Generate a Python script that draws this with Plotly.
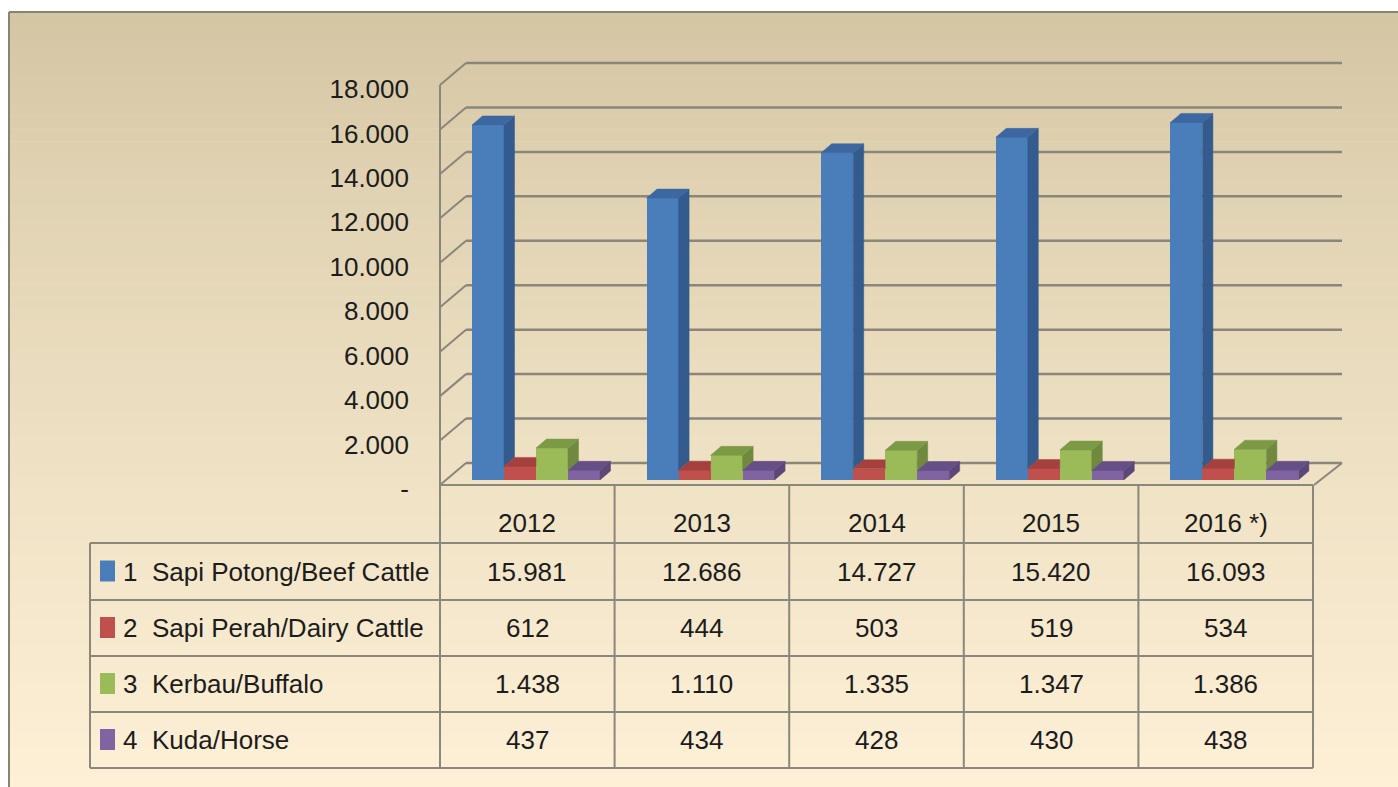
import plotly.graph_objects as go

# ---------------- data ----------------
years = ["2012", "2013", "2014", "2015", "2016 *)"]
series_names = ["Sapi Potong/Beef Cattle", "Sapi Perah/Dairy Cattle", "Kerbau/Buffalo", "Kuda/Horse"]
series_nums = ["1", "2", "3", "4"]
beef_cattle = [15981, 12686, 14727, 15420, 16093]
dairy_cattle = [612, 444, 503, 519, 534]
buffalo = [1438, 1110, 1335, 1347, 1386]
horse = [437, 434, 428, 430, 438]
y_ticks = [0, 2000, 4000, 6000, 8000, 10000, 12000, 14000, 16000, 18000]

series = [beef_cattle, dairy_cattle, buffalo, horse]

# ---------------- styles ----------------
front_colors = ["#4a7ebb", "#c0504d", "#9bbb59", "#8064a2"]
side_colors = ["#335b8e", "#963a37", "#71893f", "#5c4878"]
top_colors = ["#3c67a0", "#a4413e", "#7c9a45", "#664f86"]
grid_color = "#8a867a"
font_family = "Liberation Sans Narrow, Arial Narrow, Liberation Sans, Arial, sans-serif"
text_color = "#1c1c1c"

FIG_W, FIG_H = 1398, 787
X0, W = 527.3, 174.6       # px of category 0 centre, px per category
Y0, K = 480.0, 0.02222     # px of value 0 (bar front plane), px per unit
BW = 32.0                  # bar width px
GROUP_OFF = -55.3          # left edge of first bar relative to category centre (px)
DEP_X, DEP_Y = 10.5, 9.0   # bar depth in px

def px2x(px):
    return (px - X0) / W

def py2y(py):
    return (Y0 - py) / K

def pxp(px):
    return px / FIG_W

def pyp(py):
    return 1 - py / FIG_H

def fmt(v):
    return "-" if v == 0 else f"{v:,}".replace(",", ".")

fig = go.Figure()

ddx = DEP_X / W
ddy = DEP_Y / K
bw = BW / W

# bars: front faces as bar traces, side/top faces as polygons in data space
for j, vals in enumerate(series):
    xs = [i + (GROUP_OFF + BW * j + BW / 2) / W for i in range(len(vals))]
    fig.add_trace(go.Bar(x=xs, y=vals, width=bw, marker=dict(color=front_colors[j], line=dict(width=0)),
                         name=series_names[j], showlegend=False, hoverinfo="skip"))
    sx, sy, tx, ty = [], [], [], []
    for i, v in enumerate(vals):
        xl = xs[i] - bw / 2
        xr = xs[i] + bw / 2
        nv = series[j + 1][i] if j + 1 < len(series) else 0
        if nv < v:
            sx += [xr, xr + ddx, xr + ddx, xr, xr, None]
            sy += [nv, nv + ddy, v + ddy, v, nv, None]
        if nv > v:
            tx += [xl, xr, xr, xl + ddx, xl, None]
            ty += [v, v, v + ddy, v + ddy, v, None]
        else:
            tx += [xl, xr, xr + ddx, xl + ddx, xl, None]
            ty += [v, v, v + ddy, v + ddy, v, None]
    if sx:
        fig.add_trace(go.Scatter(x=sx, y=sy, mode="lines", fill="toself", fillcolor=side_colors[j],
                                 line=dict(width=0.5, color=side_colors[j]), showlegend=False, hoverinfo="skip"))
    fig.add_trace(go.Scatter(x=tx, y=ty, mode="lines", fill="toself", fillcolor=top_colors[j],
                             line=dict(width=0.5, color=top_colors[j]), showlegend=False, hoverinfo="skip"))

shapes = []

# background gradient
top_rgb = (211, 197, 162)
bot_rgb = (253, 240, 214)
n = 60
y_start, y_end = 12, FIG_H
for s in range(n):
    a = y_start + (y_end - y_start) * s / n
    b = y_start + (y_end - y_start) * (s + 1) / n
    t = (s + 0.5) / n
    t = t ** 0.8
    c = tuple(int(round(top_rgb[k] + (bot_rgb[k] - top_rgb[k]) * t)) for k in range(3))
    shapes.append(dict(type="rect", xref="paper", yref="paper", x0=pxp(9), x1=1, y0=pyp(b + 0.5), y1=pyp(a),
                       fillcolor=f"rgb{c}", line=dict(width=0), layer="below"))

# outer frame
shapes.append(dict(type="line", xref="paper", yref="paper", x0=pxp(9), x1=1, y0=pyp(12), y1=pyp(12),
                   line=dict(color="#8a8372", width=2), layer="below"))
shapes.append(dict(type="line", xref="paper", yref="paper", x0=pxp(9), x1=pxp(9), y0=pyp(12), y1=0,
                   line=dict(color="#8a8372", width=2), layer="below"))

# 3D walls / gridlines (data coordinates)
FL_X, BL_X, FR_X, BR_X = 440, 466, 1314, 1342
FRONT_PY0, BACK_PY0 = 485, 463
for v in y_ticks:
    yb = py2y(BACK_PY0 - K * v)
    yf = py2y(FRONT_PY0 - K * v)
    shapes.append(dict(type="line", xref="x", yref="y", x0=px2x(BL_X), x1=px2x(BR_X), y0=yb, y1=yb,
                       line=dict(color=grid_color, width=2.5), layer="below"))
    shapes.append(dict(type="line", xref="x", yref="y", x0=px2x(FL_X), x1=px2x(BL_X), y0=yf, y1=yb,
                       line=dict(color=grid_color, width=2), layer="below"))
# front-left vertical edge
shapes.append(dict(type="line", xref="x", yref="y", x0=px2x(FL_X), x1=px2x(FL_X),
                   y0=py2y(FRONT_PY0), y1=py2y(FRONT_PY0 - K * max(y_ticks)),
                   line=dict(color=grid_color, width=2), layer="below"))
# floor right edge
shapes.append(dict(type="line", xref="x", yref="y", x0=px2x(FR_X), x1=px2x(BR_X),
                   y0=py2y(FRONT_PY0), y1=py2y(BACK_PY0), line=dict(color=grid_color, width=2), layer="below"))

# data table
tbl_color = "#8a877b"
col_edges = [440 + 174.6 * i for i in range(len(years) + 1)]
row_edges = [485, 543, 600, 656, 712, 768]
LBL_X0 = 90
for r, py in enumerate(row_edges):
    x0 = FL_X if r == 0 else LBL_X0
    shapes.append(dict(type="line", xref="paper", yref="paper", x0=pxp(x0), x1=pxp(col_edges[-1]),
                       y0=pyp(py), y1=pyp(py), line=dict(color=tbl_color, width=2)))
for cx in col_edges:
    shapes.append(dict(type="line", xref="paper", yref="paper", x0=pxp(cx), x1=pxp(cx),
                       y0=pyp(row_edges[0]), y1=pyp(row_edges[-1]), line=dict(color=tbl_color, width=2)))
shapes.append(dict(type="line", xref="paper", yref="paper", x0=pxp(LBL_X0), x1=pxp(LBL_X0),
                   y0=pyp(row_edges[1]), y1=pyp(row_edges[-1]), line=dict(color=tbl_color, width=2)))

annotations = []
FS = 26
# header
for i, yr in enumerate(years):
    cx = (col_edges[i] + col_edges[i + 1]) / 2
    annotations.append(dict(xref="paper", yref="paper", x=pxp(cx), y=pyp(523), text=yr, showarrow=False,
                            xanchor="center", yanchor="middle", font=dict(size=FS, family=font_family, color=text_color)))
# rows
for j, vals in enumerate(series):
    cy = (row_edges[j + 1] + row_edges[j + 2]) / 2
    shapes.append(dict(type="rect", xref="paper", yref="paper", x0=pxp(100), x1=pxp(115),
                       y0=pyp(cy + 10), y1=pyp(cy - 11), fillcolor=front_colors[j], line=dict(width=0)))
    annotations.append(dict(xref="paper", yref="paper", x=pxp(121), y=pyp(cy), text=series_nums[j], showarrow=False,
                            xanchor="left", yanchor="middle", font=dict(size=FS, family=font_family, color=text_color)))
    annotations.append(dict(xref="paper", yref="paper", x=pxp(150), y=pyp(cy), text=series_names[j], showarrow=False,
                            xanchor="left", yanchor="middle", font=dict(size=FS, family=font_family, color=text_color)))
    for i, v in enumerate(vals):
        cx = (col_edges[i] + col_edges[i + 1]) / 2
        annotations.append(dict(xref="paper", yref="paper", x=pxp(cx), y=pyp(cy), text=fmt(v), showarrow=False,
                                xanchor="center", yanchor="middle", font=dict(size=FS, family=font_family, color=text_color)))

fig.update_layout(
    width=FIG_W, height=FIG_H,
    margin=dict(l=0, r=0, t=0, b=0),
    paper_bgcolor="white", plot_bgcolor="rgba(0,0,0,0)",
    barmode="overlay", bargap=0,
    showlegend=False,
    shapes=shapes, annotations=annotations,
    xaxis=dict(range=[px2x(0), px2x(FIG_W)], visible=False, fixedrange=True),
    yaxis=dict(range=[py2y(FIG_H), py2y(0)], showgrid=False, zeroline=False, showline=False,
               tickmode="array",
               tickvals=[py2y(FRONT_PY0 + 4 - K * v) for v in y_ticks],
               ticktext=[fmt(v) for v in y_ticks],
               ticks="", anchor="free", position=pxp(409), side="left",
               tickfont=dict(size=FS, family=font_family, color=text_color), fixedrange=True),
)

fig.write_html("out.html", config={"displayModeBar": False},
               post_script="document.body.style.margin='0';")
